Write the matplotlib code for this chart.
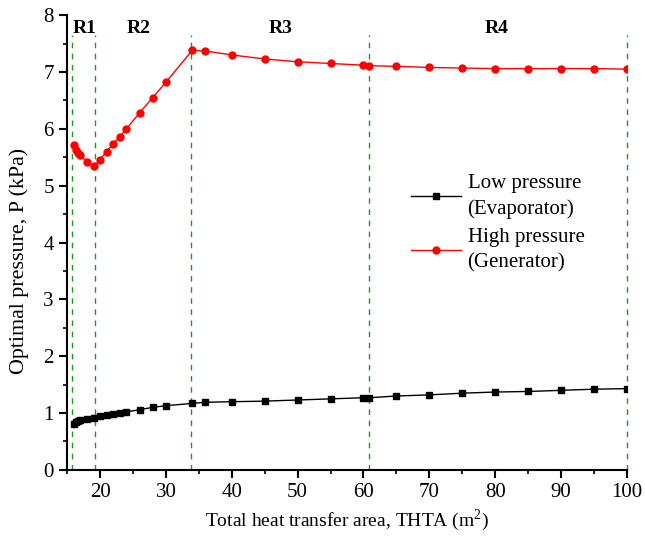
import numpy as np
import matplotlib.pyplot as plt

plt.rcParams['font.family'] = ['Liberation Serif', 'DejaVu Serif']
plt.rcParams['mathtext.fontset'] = 'custom'
plt.rcParams['mathtext.rm'] = 'Liberation Serif'

# total heat transfer area (m2)
thta = [16, 16.35, 16.7, 17, 18, 19.1, 20, 21, 22, 23, 24, 26, 28, 30, 34,
        36, 40, 45, 50, 55, 60, 60.9, 65, 70, 75, 80, 85, 90, 95, 100]
# optimal pressures (kPa)
p_low = [0.81, 0.84, 0.86, 0.88, 0.90, 0.92, 0.94, 0.97, 0.99, 1.01, 1.02,
         1.06, 1.10, 1.13, 1.17, 1.19, 1.20, 1.21, 1.23, 1.25, 1.27, 1.27,
         1.30, 1.32, 1.35, 1.37, 1.38, 1.40, 1.42, 1.43]
p_high = [5.71, 5.63, 5.58, 5.54, 5.42, 5.34, 5.46, 5.60, 5.74, 5.86, 6.00,
          6.28, 6.55, 6.82, 7.38, 7.37, 7.30, 7.23, 7.18, 7.15, 7.12, 7.11,
          7.10, 7.08, 7.07, 7.06, 7.06, 7.06, 7.06, 7.05]

# region boundaries and labels
bounds = [15.8, 19.2, 33.8, 60.8, 100]
regions = ['R1', 'R2', 'R3', 'R4']
region_x = [17.7, 25.8, 47.4, 80.2]

fig = plt.figure(figsize=(6.45, 5.42), dpi=100)
ax = fig.add_axes([0.104, 0.133, 0.868, 0.839])

ax.plot(thta, p_low, 'k-', marker='s', ms=5, lw=1,
        label='Low pressure\n(Evaporator)')
ax.plot(thta, p_high, 'r-', marker='o', ms=5, lw=1,
        label='High pressure\n(Generator)')

for b in bounds:
    ax.plot([b, b], [0, 7.65], color='#1a9a1a', ls=(0, (4, 4)), lw=1,
            zorder=1, clip_on=False)
for r, x in zip(regions, region_x):
    ax.text(x, 7.77, r, ha='center', va='center', fontsize=14, fontweight='bold')

ax.set_xlim(15, 100)
ax.set_ylim(0, 8)
ax.set_xticks(np.arange(20, 101, 10))
ax.set_xticks(np.arange(15, 101, 5), minor=True)
ax.set_yticks(np.arange(0, 9, 1))
ax.set_yticks(np.arange(0, 8.1, 0.5), minor=True)
ax.spines['top'].set_visible(False)
ax.spines['right'].set_visible(False)
ax.spines['left'].set_linewidth(1.5)
ax.spines['bottom'].set_linewidth(1.5)
ax.tick_params(which='major', length=6, width=1.5, labelsize=15)
ax.tick_params(which='minor', length=3, width=1.2)

ax.set_xlabel(r'Total heat transfer area, THTA (m$^2$)', fontsize=14)
ax.set_ylabel('Optimal pressure, P (kPa)', fontsize=15.8)
ax.yaxis.set_label_coords(-0.068, 0.46)

leg = ax.legend(loc='upper left', bbox_to_anchor=(0.6, 0.67), frameon=False,
                fontsize=15, handlelength=2.4, handletextpad=0.3,
                labelspacing=0.45, borderaxespad=0)
for t in leg.get_texts():
    t.set_linespacing(1.45)

fig.savefig('out.png', dpi=100)
